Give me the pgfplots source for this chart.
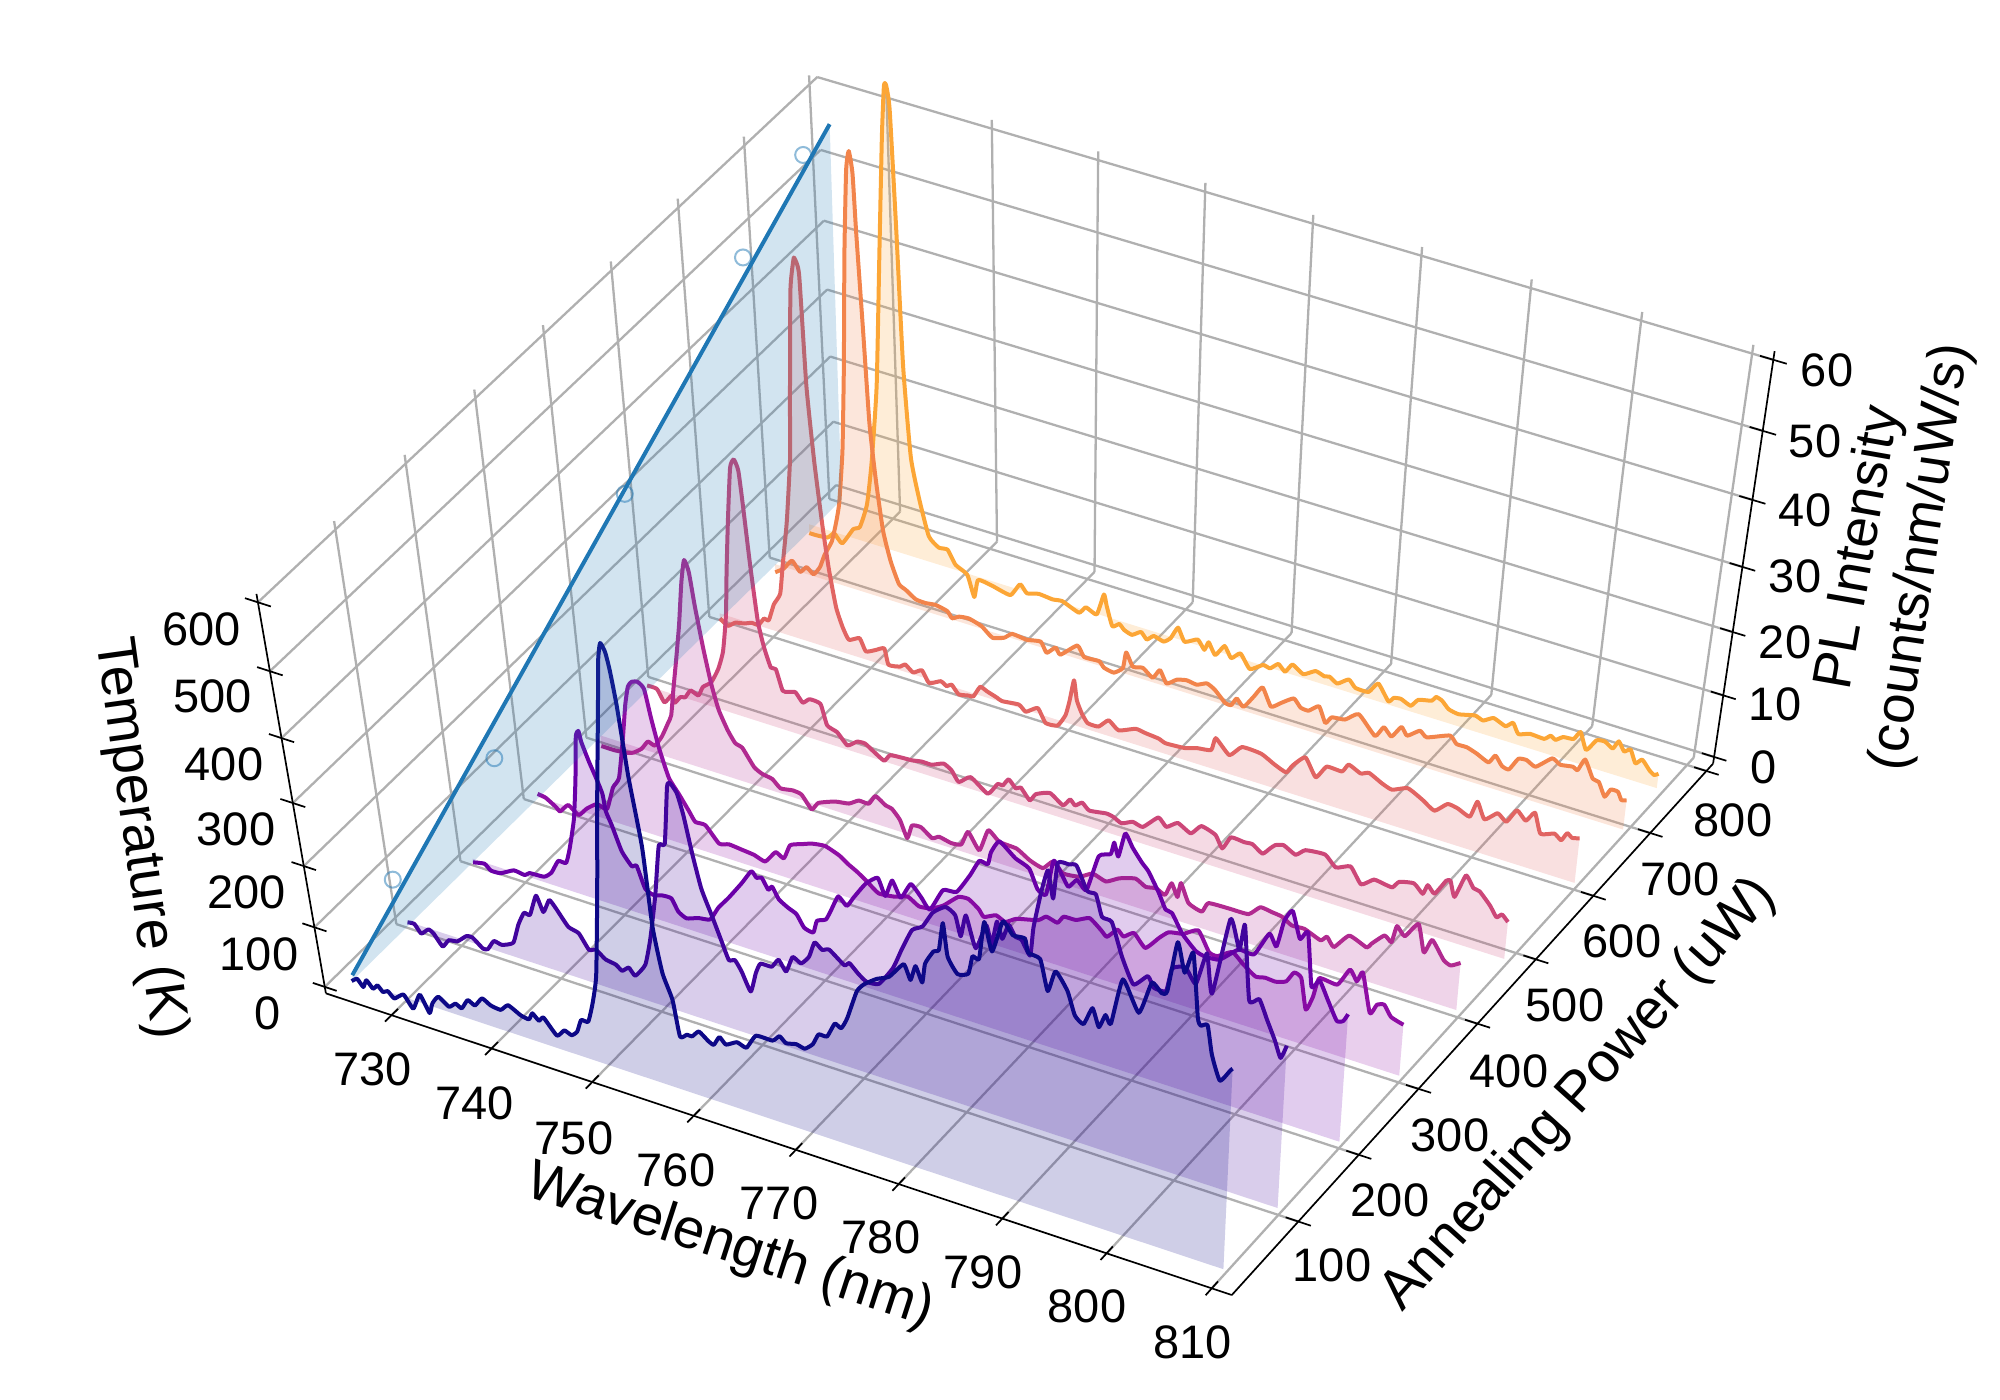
\documentclass[border=0pt]{standalone}
\usepackage{pgfplots}
\usepackage{pgfplotstable}
\usepackage{fontspec}
\setmainfont{Liberation Sans}
\pgfplotsset{compat=1.18}
\definecolor{cA}{HTML}{0D0887}
\definecolor{cB}{HTML}{41049D}
\definecolor{cC}{HTML}{6A00A8}
\definecolor{cD}{HTML}{8F0DA4}
\definecolor{cE}{HTML}{B12A90}
\definecolor{cF}{HTML}{CC4778}
\definecolor{cG}{HTML}{E16462}
\definecolor{cH}{HTML}{F2844B}
\definecolor{cI}{HTML}{FCA636}
\definecolor{cT}{HTML}{1F77B4}
\definecolor{cGrid}{HTML}{B0B0B0}
% columns: wavelength (nm), PL intensity; the first two rows close the filled area at intensity 0
\pgfplotstableread[row sep=\\]{l i\\
810 0\\724.85 0\\
724.85 -0.25\\725.45 0.46\\726 -0.6\\726.4 0.73\\727 -0.33\\727.5 0.48\\728 -0.34\\728.5 0.1\\729.1 -0.8\\730.1 0.4\\730.95 -1.46\\731.8 1.3\\732.6 -1.3\\733 0.5\\733.7 2\\734.7 0.9\\735.4 1.8\\736 1.36\\736.7 3.1\\737.4 2.6\\738.2 4.2\\739 3.5\\740 3.3\\740.8 4.5\\742 3.5\\742.8 3.3\\743.2 4.5\\743.8 3.6\\744.3 4.4\\745.5 2.1\\746.3 3.4\\747 3\\747.6 3.9\\748.1 6.1\\748.8 6.2\\749.4 9.5\\750 14.3\\750.8 27.9\\751.6 43.5\\752.3 55.9\\752.7 63.3\\753 65.8\\753.4 64.7\\753.7 62.3\\754.1 57.4\\754.7 47.3\\755.5 37.3\\755.95 25.3\\756.6 18.3\\757.4 14.5\\757.9 8.8\\758.6 9.5\\759.1 9.5\\759.8 10.7\\760.7 9.6\\761.2 9.3\\761.8 10.9\\762.4 10\\763.5 11\\764.4 10.6\\765.4 13.1\\767 13.2\\767.7 14.3\\768.3 13.5\\769.3 13.9\\770.1 13.6\\770.9 14.8\\771.5 16.7\\772.3 16.8\\773.1 19.3\\773.7 18.9\\774.3 20.8\\775.3 25.6\\776 27.1\\777.2 28.6\\778.4 29.6\\779.8 32.3\\780.4 30.2\\780.9 32.6\\781.5 30.4\\781.8 33.5\\782.6 35.8\\783.1 36.3\\783.5 40.6\\783.9 35.7\\784.8 33.5\\785.8 34.1\\786.2 37\\786.8 36.9\\787.3 42.8\\788 38.7\\789 43.8\\789.9 42.2\\791 42.3\\791.3 40.3\\792.4 39.9\\793.1 35.4\\793.8 38.8\\794.9 36.4\\795.6 33\\796.4 32.1\\797.2 35\\797.8 32.4\\798.4 34.6\\798.9 33.5\\799.9 40.9\\801.4 36.6\\802.5 41.8\\803.4 40.7\\803.9 41.3\\804.7 49.1\\805.4 44.9\\806.1 48.3\\806.7 38.8\\807 37.7\\807.6 38.1\\808.1 33.8\\808.9 30.2\\809.8 32.3\\810 32.7\\
}\sA
\pgfplotstableread[row sep=\\]{l i\\
809.9 0\\724.6 0\\
724.6 -0.15\\725.3 -0.05\\725.9 -1.3\\726.7 -0.2\\727.2 -0.6\\728 -2.3\\728.7 -0.9\\729.6 -0.6\\730.6 0.8\\731.2 0.9\\732.2 -0.4\\732.7 -0.2\\733.4 1.5\\734.2 1.3\\735.4 2.3\\736.1 5.6\\736.8 7.9\\737.4 7.9\\738.2 11.4\\738.8 9.1\\739.5 11.4\\740.1 10.4\\741.2 8\\742.2 7.5\\743.1 5.3\\743.8 5.7\\744.7 4.6\\745.7 4.3\\746.3 3.6\\747 4.5\\747.6 3.5\\748.7 5.9\\749.4 10.5\\750.2 17.8\\750.9 26\\751.5 26.6\\752.1 35.6\\752.4 36.3\\753 35.1\\753.5 32\\754.1 26.6\\754.8 21.3\\755.7 17.4\\756.5 13.8\\757.1 11.2\\757.7 11.5\\758.3 10\\759.1 7.2\\759.7 10.5\\760.2 12.3\\761.3 12.4\\762 13.9\\762.7 12.4\\763.4 15.1\\764.2 14.5\\765 16\\765.6 18.6\\766.3 17.8\\767 18.2\\768.4 16.5\\768.9 17.1\\769.7 15.9\\770.5 15\\771.7 15.3\\773.1 18.6\\774 22.1\\775 25.6\\776 26.7\\777 29.4\\778.2 30.9\\779.1 30.1\\779.6 27.1\\780.1 30.6\\781 26\\782 30.1\\782.5 27.4\\783 31.2\\783.5 28.8\\784.1 31.3\\784.7 29.8\\785.3 29.6\\786.1 27.6\\786.4 32.1\\787.1 37.9\\787.7 41.5\\788.2 37.5\\788.6 43.1\\789.6 43.4\\790.3 43.6\\791.3 40.3\\792.1 40.2\\792.7 37.1\\793.6 36.8\\794.6 32\\795.7 28.3\\797 30.3\\797.6 28.8\\798.7 28.9\\799.2 32.7\\800.4 33.5\\801.4 31.5\\802.3 36.7\\802.9 30.8\\804.3 43\\805.2 38.8\\805.6 42.8\\806.3 31.6\\807.2 32.3\\808 29.5\\808.8 26.7\\809.4 24.3\\809.9 26.5\\
}\sB
\pgfplotstableread[row sep=\\]{l i\\
810 0\\724.7 0\\
724.7 -0.6\\725.9 -0.2\\726.5 -1\\727.5 -0.9\\728.9 0.3\\730 0.1\\730.5 0.7\\732 0.9\\732.8 2\\733.6 4.3\\734.4 4.4\\734.9 7\\735.6 12.1\\736.1 18.6\\736.5 25.4\\736.8 26.4\\737 24.8\\737.6 22.1\\738.2 19.8\\738.7 17.6\\738.9 15\\739.4 13\\740.2 9.3\\741.1 7.4\\741.6 7.7\\742.3 4.4\\743.1 3.8\\744 4.2\\744.9 4.2\\745.5 2.4\\746.3 1.7\\747.5 2.4\\748.7 2.8\\749.6 5.2\\750.7 7.4\\752.1 10.5\\753.1 12.9\\753.6 12.1\\754.1 12.4\\754.7 10.8\\755.1 11.5\\755.7 9.8\\756.6 8.9\\757.4 8.3\\758.1 6.5\\759 6.2\\759.4 8.3\\760.3 9\\760.9 11\\761.6 13.4\\762.4 12.3\\763.1 14\\764.3 16.8\\765.5 18.4\\766.2 15.9\\766.9 18.7\\767.7 16.4\\768.7 19.1\\769.7 17.5\\770.5 16\\771.8 19.8\\773.1 20.2\\774.4 23.5\\775.3 26.2\\776.1 26.1\\776.4 28.1\\777.2 30.2\\778.7 28.4\\780 27.5\\780.8 24.7\\781.6 24.3\\782.3 29.9\\783.1 28.1\\783.7 26.6\\784.5 28.1\\785.4 27\\786.5 32.8\\787.6 33.7\\787.9 35.6\\788.3 33.7\\788.9 37.5\\789.6 35.7\\790.5 33.9\\791.1 32.9\\792.1 30.2\\792.8 27.9\\793.4 27.7\\794.4 25\\795.7 23\\796.6 22.6\\797.9 22.8\\798.8 24.1\\799.7 25.4\\801.1 25.4\\802.4 29.3\\803.1 27.7\\803.7 32\\804.4 33.9\\805.2 30\\805.9 31.4\\806.5 23.2\\807.2 24.6\\808.1 21.9\\809 19.2\\809.6 19.5\\810 20.8\\
}\sC
\pgfplotstableread[row sep=\\]{l i\\
810 0\\724.9 0\\
724.9 0.5\\725.7 0.3\\726.7 -0.7\\727.1 -1.2\\728 0.3\\729 -0.8\\729.9 0.7\\731 2\\732 1.7\\732.8 5.6\\733.5 7.5\\734.2 14.1\\734.7 19.6\\735.1 22.6\\735.5 23.5\\736.1 23.8\\736.7 23\\737.2 18.8\\737.8 14.4\\738.6 10.1\\739.5 8\\740.4 5.8\\741 4.3\\742 4.3\\743.3 2\\744.3 2.4\\745.6 2.2\\746.8 2\\747.9 1.5\\749 3.6\\749.8 3\\750.5 5.5\\751.7 6.3\\752.7 6.9\\754 7.2\\755.4 6.4\\756.2 5.5\\757.1 4.7\\758.1 3.6\\759.2 2.3\\760.8 2.6\\762.1 3.3\\763.2 2.3\\764.4 2.6\\765.6 3.7\\767.1 5.9\\768.1 6.1\\769.1 5\\769.6 4\\770.8 4.9\\771.7 4.3\\772.8 5.4\\774.9 6.3\\775.7 7.3\\776.8 6.9\\777.4 8.2\\778.6 8.3\\779.9 9.3\\781 8\\781.6 7.2\\782.6 8.9\\783.2 8.1\\784.2 9.2\\785.3 7.4\\786.6 9.7\\787.5 11.1\\788.9 11.6\\790.3 12.9\\791.4 10\\792.2 9.8\\793.6 11.2\\794.7 9.8\\795.9 8.5\\796.8 8.8\\797.8 8.7\\798.8 9.3\\799.5 11.1\\800.2 10.6\\800.8 5.8\\801.4 8.2\\801.9 11.5\\803.6 11.4\\804.7 14.4\\805.4 12.9\\805.9 14.6\\806.8 8.5\\807.4 10.2\\808.1 10.6\\808.8 9\\810 8.4\\
}\sD
\pgfplotstableread[row sep=\\]{l i\\
809.8 0\\724.9 0\\
724.9 -1.7\\726.2 -1.7\\727.4 -1.5\\728.2 -1.1\\729.1 0\\729.8 1.5\\730.5 1.2\\731.3 3.1\\732 5.5\\732.4 7\\732.8 11.3\\733.3 16.4\\733.8 21.8\\734.3 28.5\\734.7 32\\735.1 30.4\\735.5 25.4\\736.1 19.2\\736.7 14\\737.3 10.3\\738.1 7.5\\738.8 5.8\\739.5 5.4\\740.6 2.9\\741.4 2.2\\742.4 1.9\\743.2 0.8\\744.4 1.1\\745.3 0.9\\746.3 -1\\747 0.4\\748.7 1.5\\750.1 1.9\\751.1 2.9\\752.1 2.9\\752.8 4.5\\753.8 3.5\\754.4 3.3\\755.2 1.9\\755.9 -0.7\\756.4 1.6\\757.3 1.8\\758.4 0.6\\759.1 1.2\\760.3 0.8\\761.3 1.1\\762 3.5\\763.1 1.1\\764 4.8\\765.1 3.5\\766.8 3.3\\768.1 2.1\\769.4 1.5\\770.4 3.1\\771.4 1.7\\773 2\\774.3 3.2\\775.6 2.6\\776.9 3.8\\778.5 4.6\\779.5 3.8\\780.5 4.1\\781.4 3.5\\782 5.7\\782.6 3.8\\782.9 6.2\\783.7 3.4\\785 2.7\\785.6 4.4\\787.6 4.6\\789.5 4.7\\790.6 6.4\\791.7 6.2\\792.7 6\\793.7 5.1\\794.9 5.2\\796.5 4.2\\797.1 5.1\\797.8 3.8\\799.2 6.4\\800.9 5.4\\801.3 6.2\\802.5 8.2\\803.2 7.5\\803.6 10.3\\804.4 9.1\\805.6 11.7\\806.3 7.5\\807 9.9\\808.2 7.3\\808.9 6.8\\809.8 7.7\\
}\sE
\pgfplotstableread[row sep=\\]{l i\\
809.9 0\\724.6 0\\
724.6 0.05\\725.6 0\\726.3 -1.8\\727.1 -0.3\\727.4 -1.3\\728 -0.1\\728.5 0.1\\729.1 1.5\\729.9 1.1\\730.4 2.7\\731.3 3.9\\732.1 6.4\\732.7 9.5\\733.2 15.4\\733.5 22.2\\733.9 29.9\\734.4 38.1\\734.8 39.5\\735.2 38\\735.5 32.6\\735.9 24.4\\736.4 16\\736.9 12.2\\737.5 9.3\\738 9.3\\738.6 6.2\\739.2 6.3\\739.9 6.6\\740.6 5.3\\741.3 6.2\\742.4 6\\743 2.9\\744 2.3\\745 0.7\\746 1.8\\746.8 1.9\\747.7 1\\748.7 0.1\\749.3 1.3\\750.4 1.5\\751.5 1.6\\752.5 1.9\\753.5 1.9\\754.7 2.7\\755.5 2\\756.2 0.5\\757.4 1.9\\759.1 0.1\\760.1 2.2\\760.6 2.2\\761.2 3.5\\761.9 2.4\\762.4 2.8\\763.3 1.2\\763.9 2.5\\765.3 3.4\\766.6 2.1\\767.3 3.4\\767.8 2.7\\768.5 3.5\\769.2 2.6\\770.9 3\\771.6 2.8\\772.4 2.2\\773.5 3\\774.5 2.7\\776 5\\776.8 3.9\\777.9 5.1\\779.2 4.1\\780.2 5.8\\781.6 5.1\\782.3 3.3\\783.1 5.5\\784.4 5.4\\785.2 5.5\\786.2 4.5\\786.9 5.7\\787.4 6.5\\788.2 6.9\\789.4 6\\790.3 7.2\\792.2 7.5\\793.3 6\\794.7 6.9\\795.8 4.6\\797 6\\798 5.8\\798.8 5.7\\799.4 6.9\\800.8 7.4\\801.7 6.2\\802.1 7.8\\802.8 6.8\\803.8 9.4\\804.2 9.6\\804.7 7.3\\805.6 11.2\\806.4 9.6\\807 9.4\\808.1 7.7\\808.8 6.2\\809.3 6.9\\809.9 6\\
}\sF
\pgfplotstableread[row sep=\\]{l i\\
810 0\\724.5 0\\
724.5 -0.8\\725.3 -1.6\\726.1 -0.7\\727 -0.4\\727.8 0.1\\728.5 0.1\\729.1 1.4\\729.6 1.4\\730.2 4.2\\730.9 6.2\\731.3 11\\731.9 17.9\\732.5 27.8\\732.7 35.6\\733.2 52.3\\733.6 56.7\\733.7 57\\734.1 54.9\\734.4 39.2\\734.9 28.3\\735.5 18.8\\736 12.4\\736.6 6.8\\737.2 4\\737.8 2.3\\738.9 3.1\\739.5 1.3\\740.5 2\\741.4 2.7\\741.8 0.3\\743 0.6\\743.5 1.2\\744.3 0.3\\745.2 1.1\\745.9 -0.6\\747.1 0.3\\747.7 -0.2\\748.2 0.3\\748.9 -0.9\\749.9 -0.6\\750.4 -0.5\\751.1 1.4\\751.8 1\\752.8 0.5\\753.3 0.2\\755 0.5\\755.7 -0.3\\756.9 0.9\\757.7 -1.1\\758.9 -0.9\\759.7 1.2\\760.1 3.8\\760.5 7.1\\760.8 4.1\\761.3 2.3\\761.9 1\\763 1\\764 2.5\\765 1.4\\766.7 2.5\\767.7 2.3\\769 2.1\\769.7 1.7\\771.6 1.9\\772.8 2.5\\774.2 2.9\\774.6 5\\776 3\\777.2 4.9\\779.1 4.8\\780.4 3.8\\781.6 3.1\\782.2 4.5\\783.4 6.4\\784.5 3.8\\785.5 6\\787 6\\787.6 7.4\\788.8 6.6\\789.6 7.1\\790.9 6.1\\791.9 5.6\\793.4 6.6\\794.9 5.5\\796.1 4.4\\797.3 6.1\\798.3 5.9\\799.5 5.2\\800.1 7.9\\800.9 5.5\\802.1 7.1\\803 6.2\\803.9 8.5\\804.8 7.3\\805.6 9\\806.3 6\\807.6 6.7\\808.3 6\\808.8 7.4\\809.3 6.9\\810 7.2\\
}\sG
\pgfplotstableread[row sep=\\]{l i\\
810 0\\724.9 0\\
724.9 -1.3\\725.8 -0.3\\726.7 1.4\\727.5 0\\728.2 1.1\\728.9 0.3\\729.6 1.8\\730.1 3.9\\730.9 6.4\\731.4 9.5\\731.8 12.8\\732.3 21\\732.7 33.6\\733.1 50.2\\733.5 61.8\\733.8 64.5\\734.1 61.6\\734.3 53.4\\734.7 40.1\\735.1 26.3\\735.6 18\\736.2 10.6\\736.9 6.2\\737.7 3\\738.4 2.4\\739.4 1.4\\740.4 1.3\\741.4 1.5\\742.6 1.1\\743.1 0.2\\743.8 0.8\\744.8 1\\746.1 0.4\\747.2 -0.9\\748.4 -0.3\\749.2 0.7\\750.7 0.5\\752.1 0.9\\752.7 -0.6\\753.6 0.7\\754.1 -0.2\\755.8 2.1\\756.5 0.6\\758 0.7\\758.5 -0.1\\759.5 -0.4\\760.4 0.8\\760.7 3.4\\761.4 1.5\\762.4 1.8\\763.4 0.7\\764.1 2.3\\764.8 0.5\\765.8 1.6\\766.8 2\\767.8 1.8\\768.8 2.5\\769.6 1.9\\770.7 0.3\\771.3 0.3\\771.8 1.6\\772.5 0.6\\773.5 2.8\\774.3 4.6\\775.2 2\\776.2 3.1\\777.4 4.4\\778.1 3.3\\778.9 3.2\\779.9 4.4\\780.6 2.1\\781.2 3.3\\782.5 3.6\\783.8 5.1\\785.5 2.5\\786.3 4.3\\787.1 3.2\\788 5.2\\788.6 4.1\\789.8 5.5\\790.5 4.8\\792.7 6.2\\793.4 5.2\\794.4 5.2\\795.4 4.7\\796.6 3.9\\797.2 5.3\\797.9 4\\798.6 3.8\\799.4 5.9\\800.2 6.1\\801.1 5.5\\802.6 7.6\\803.4 7\\804.6 7.3\\805.1 7\\805.7 9\\806.6 6.4\\807.2 6.2\\807.9 4.2\\808.4 5.6\\809.1 5.6\\809.5 4.5\\810 4.7\\
}\sH
\pgfplotstableread[row sep=\\]{l i\\
809.7 0\\724.4 0\\
724.4 -1.4\\725.1 -1.4\\726.3 -1.2\\727 -0.2\\727.8 -1.4\\729 1.4\\729.7 2.1\\730.5 6\\731.1 12.9\\731.8 24.7\\732.4 44.5\\732.9 60.7\\733.2 67.6\\733.4 67.9\\733.7 64.7\\734.1 48\\734.5 28.8\\735.1 15.4\\735.9 9.2\\736.8 4\\737.8 2.7\\738.7 2.8\\739.5 0.8\\740.7 -0.2\\741.4 -3.4\\741.8 -0.5\\743.2 -0.7\\745.1 -1.3\\746.1 0.9\\746.8 -0.2\\748 0.3\\749.4 0.1\\750.4 0.3\\752.1 -0.7\\752.8 0.5\\753.9 -0.1\\754.6 3.4\\754.9 1.7\\755.5 -1.2\\756.2 -0.5\\756.7 -1.2\\757.5 -1.6\\758.4 -0.7\\759 -1.6\\759.7 -0.7\\760.7 -1.1\\761.4 -0.2\\762.1 1.8\\762.8 -0.1\\764.1 0.9\\764.8 -0.4\\765.2 1\\765.9 -0.7\\766.8 1.2\\767.5 -0.4\\768.4 0.8\\769.4 -1.2\\770.7 0.1\\771.4 -0.1\\772.2 1\\772.9 0.1\\773.6 1.6\\774.7 0.6\\775.9 1.7\\776.8 1.3\\777.3 1.5\\778.1 0.8\\779.2 2\\779.9 1\\781.2 1\\782.1 2.8\\783.2 0.5\\783.7 1.3\\784.4 1.5\\785.4 0.9\\786.1 2.2\\787.4 2.7\\787.8 3.5\\788.4 3.2\\789.1 2.2\\790.1 1.9\\791.7 2.5\\792.5 2.1\\793.5 3\\794.7 2.3\\795.4 3.2\\796 1.7\\797.1 2.3\\798.5 2.2\\799.1 3\\799.6 2.6\\800.3 3.4\\801.3 3.6\\801.9 5\\802.6 2.5\\803.5 4.5\\804.3 4.7\\805.1 4\\805.6 5.4\\806.2 4.1\\806.8 4.7\\807.4 2.8\\808 3.7\\808.8 2.4\\809.3 1.9\\809.7 2.3\\
}\sI
\newcommand\spec[3]{%
 \addplot[mark=none,draw=none,fill=#3,fill opacity=0.2,forget plot] table[x expr={specx(\thisrow{l},#2,\thisrow{i})},y expr={specy(\thisrow{l},#2,\thisrow{i})}]{#1};
 \addplot[mark=none,#3,line width=2pt,line join=round,smooth,tension=0.3,skip coords between index={0}{2}] table[x expr={specx(\thisrow{l},#2,\thisrow{i})},y expr={specy(\thisrow{l},#2,\thisrow{i})}]{#1};}
% one straight segment between two points given as wavelength, power, intensity
\newcommand\seg[7]{\addplot[mark=none,#1] table[row sep=\\,x expr={gridx(\thisrow{l},\thisrow{p},\thisrow{z})},y expr={gridy(\thisrow{l},\thisrow{p},\thisrow{z})}]{l p z\\#2 #3 #4\\#5 #6 #7\\};}
\tikzset{gl/.style={cGrid,line width=1.15pt},bl/.style={black,line width=0.85pt}}
\begin{document}
\begin{tikzpicture}
\path[use as bounding box] (0,0) rectangle (1000pt,700pt);
\begin{axis}[at={(0,0)},anchor=south west,width=1000pt,height=700pt,scale only axis,
 xmin=0,xmax=2000,ymin=0,ymax=1400,y dir=reverse,hide axis,clip=false,
 declare function={
  ddn(\l,\p,\i,\c)=1-0.02772*(\l-730)/80+0.04276*(\p-100)/700+\c*(\i+1.1)/61.1;
  specx(\l,\p,\i)=(461.7+781.2*(\l-730)/80+469.5*(\p-100)/700-76*(\i+1.1)/61.1)/ddn(\l,\p,\i,-0.075);
  specy(\l,\p,\i)=(945.7+235.6*(\l-730)/80-404.8*(\p-100)/700-442*(\i+1.1)/61.1)/ddn(\l,\p,\i,-0.075);
  gridx(\l,\p,\i)=(461.7+781.2*(\l-730)/80+469.5*(\p-100)/700-89.6*(\i+1.1)/61.1)/ddn(\l,\p,\i,-0.085);
  gridy(\l,\p,\i)=(945.7+235.6*(\l-730)/80-404.8*(\p-100)/700-440.5*(\i+1.1)/61.1)/ddn(\l,\p,\i,-0.085);
 }]
% grid on the back wall and the floor: one line per wavelength tick
\pgfplotsinvokeforeach{730,740,750,760,770,780,790,800,810}{
 \seg{gl}{#1}{812}{-1.1}{#1}{812}{61.2}
 \seg{gl}{#1}{-8.5}{-1.1}{#1}{812}{-1.1}}
% grid on the back wall and the left wall: one line per intensity tick
\pgfplotsinvokeforeach{0,10,20,30,40,50,60}{
 \seg{gl}{723.4}{812}{#1}{811.9}{812}{#1}
 \seg{gl}{723.4}{-8.5}{#1}{723.4}{812}{#1}}
% grid on the left wall and the floor: one line per power tick
\pgfplotsinvokeforeach{100,200,300,400,500,600,700,800}{
 \seg{gl}{723.4}{#1}{-1.1}{723.4}{#1}{61.2}
 \seg{gl}{723.4}{#1}{-1.1}{811.9}{#1}{-1.1}}
% spectra, back to front
\spec{\sI}{750}{cI}
\spec{\sH}{685}{cH}
\spec{\sG}{600}{cG}
\spec{\sF}{480}{cF}
\spec{\sE}{400}{cE}
\spec{\sD}{300}{cD}
\spec{\sC}{200}{cC}
\spec{\sB}{100}{cB}
\spec{\sA}{10}{cA}
% temperature against annealing power on the wall (intensity axis read as T/10)
\addplot[mark=none,draw=none,fill=cT,fill opacity=0.2,forget plot] table[row sep=\\,x expr={specx(725,\thisrow{p},\thisrow{T}/10)},y expr={specy(725,\thisrow{p},\thisrow{T}/10)}]{p T\\795 0\\10 0\\10 8\\795 553\\};
\addplot[only marks,mark=*,mark size=4pt,mark options={solid,draw=cT,fill=white,draw opacity=0.5,fill opacity=0,line width=1pt}] table[row sep=\\,x expr={specx(724.75,\thisrow{p},\thisrow{T}/10)},y expr={specy(724.75,\thisrow{p},\thisrow{T}/10)}]{p T\\85 84\\245 116\\465 311\\660 480\\757 541\\};
\addplot[mark=none,cT,line width=2pt] table[row sep=\\,x expr={specx(725,\thisrow{p},\thisrow{T}/10)},y expr={specy(725,\thisrow{p},\thisrow{T}/10)}]{p T\\10 8\\795 553\\};
% box edges
\seg{bl}{723.4}{-8.5}{-1.1}{811.9}{-8.5}{-1.1}
\seg{bl}{811.9}{-8.5}{-1.1}{811.9}{812}{-1.1}
\seg{bl}{811.9}{812}{-1.1}{811.9}{812}{61.2}
\seg{bl}{723.4}{-8.5}{-1.1}{723.4}{-8.5}{61.2}
% ticks
\pgfplotsinvokeforeach{730,740,750,760,770,780,790,800,810}{\seg{bl}{#1}{-18.5}{-1.1}{#1}{1.5}{-1.1}}
\pgfplotsinvokeforeach{100,200,300,400,500,600,700,800}{\seg{bl}{810.7}{#1}{-1.1}{813.1}{#1}{-1.1}}
\pgfplotsinvokeforeach{0,10,20,30,40,50,60}{
 \seg{bl}{810.7}{812}{#1}{813.1}{812}{#1}
 \seg{bl}{722.2}{-8.5}{#1}{724.6}{-8.5}{#1}}
% tick labels
\def\tl#1#2#3{\node[font=\fontsize{23.5}{28}\selectfont,inner sep=0pt] at (axis cs:#1,#2) {#3};}
\tl{372.4}{1069}{730}\tl{474.5}{1103}{740}\tl{574}{1138}{750}\tl{676}{1170}{760}\tl{779}{1203}{770}\tl{881}{1237}{780}\tl{983}{1272}{790}\tl{1087}{1306}{800}\tl{1192.6}{1342}{810}
\tl{1332}{1265}{100}\tl{1390}{1200}{200}\tl{1450}{1135}{300}\tl{1509}{1071}{400}\tl{1565}{1005}{500}\tl{1622}{941}{600}\tl{1680}{879}{700}\tl{1733}{820}{800}
\tl{1764}{767}{0}\tl{1775}{704}{10}\tl{1785}{642}{20}\tl{1795}{576}{30}\tl{1805}{510}{40}\tl{1815}{441}{50}\tl{1827}{370}{60}
\tl{268}{1013}{0}\tl{259}{954}{100}\tl{246.7}{892}{200}\tl{236}{829}{300}\tl{224}{764}{400}\tl{212.7}{696.7}{500}\tl{201.7}{629}{600}
% axis titles
\def\ttl#1#2#3#4#5{\node[font=\fontsize{#5}{33}\selectfont,inner sep=0pt,rotate=#3] at (axis cs:#1,#2) {#4};}
\ttl{139}{839}{-82}{Temperature (K)}{28}
\ttl{730}{1247}{-18}{Wavelength (nm)}{28}
\ttl{1579}{1095}{48}{Annealing Power (uW)}{28}
\ttl{1860}{548}{80}{PL Intensity}{27.5}
\ttl{1922}{557}{81.5}{(counts/nm/uW/s)}{27.5}
\end{axis}
\end{tikzpicture}
\end{document}
